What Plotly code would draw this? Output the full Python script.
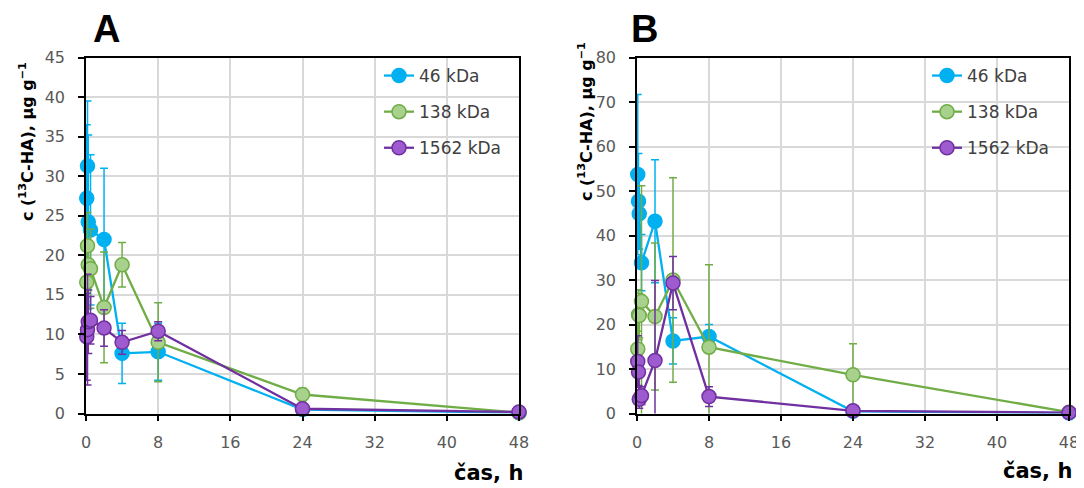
import plotly.graph_objects as go

# ---- data ----
hours = [0.083, 0.167, 0.25, 0.5, 2, 4, 8, 24, 48]
series_names = ["46 kDa", "138 kDa", "1562 kDa"]

# Panel A
a_46 = [27.2, 31.3, 24.2, 23.2, 22.0, 7.6, 7.8, 0.5, 0.1]
a_46_err = [9.3, 8.2, 11.0, 9.5, 9.0, 3.8, 3.6, 0.4, 0.1]
a_138 = [16.6, 21.2, 18.8, 18.3, 13.4, 18.8, 9.0, 2.4, 0.1]
a_138_err = [3.0, 4.2, 2.5, 5.0, 7.0, 2.8, 5.0, 0.8, 0.1]
a_1562 = [9.7, 10.6, 11.6, 11.8, 10.8, 9.0, 10.4, 0.6, 0.2]
a_1562_err = [5.5, 7.0, 4.0, 3.0, 2.3, 1.5, 1.2, 0.3, 0.1]

# Panel B
b_46 = [53.7, 47.7, 44.9, 33.9, 43.2, 16.3, 17.3, 0.5, 0.1]
b_46_err = [18.0, 10.7, 8.0, 6.3, 13.8, 5.2, 2.7, 0.3, 0.1]
b_138 = [14.5, 22.2, 22.0, 25.2, 21.8, 30.0, 14.9, 8.7, 0.3]
b_138_err = [4.0, 5.6, 5.0, 26.0, 16.5, 23.0, 18.5, 7.0, 0.2]
b_1562 = [11.7, 9.3, 3.2, 4.0, 11.9, 29.3, 3.8, 0.6, 0.2]
b_1562_err = [5.8, 3.0, 2.0, 2.0, 18.0, 6.0, 2.2, 0.3, 0.1]

x_ticks = [0, 8, 16, 24, 32, 40, 48]
ya_ticks = list(range(0, 46, 5))
yb_ticks = list(range(0, 81, 10))

panel_labels = ["A", "B"]
y_title = "c (<sup>13</sup>C-HA), µg g<sup>−1</sup>"
x_title = "čas, h"

# ---- styles ----
# the page body has an 8px margin, so the figure is drawn offset by 8px
OFF = 8
W, H = 1076, 480
line_cols = ["#00B0F0", "#70AD47", "#7030A0"]
fill_cols = ["#00B0F0", "#A9D18E", "#9E5BCF"]
WIDE = "DejaVu Sans"

def px(x):
    return (x - OFF) / W

def py(y):
    return 1 - (y - OFF) / H

fig = go.Figure()

panels = [
    ("x", "y", "legend", [a_46, a_138, a_1562], [a_46_err, a_138_err, a_1562_err]),
    ("x2", "y2", "legend2", [b_46, b_138, b_1562], [b_46_err, b_138_err, b_1562_err]),
]
for xa, ya, lg, vals, errs in panels:
    for i, name in enumerate(series_names):
        fig.add_trace(go.Scatter(
            x=hours, y=vals[i], name=name, mode="lines+markers",
            xaxis=xa, yaxis=ya, legend=lg, legendgroup=lg + str(i),
            line=dict(color=line_cols[i], width=2.3),
            marker=dict(size=14, color=fill_cols[i], line=dict(color=line_cols[i], width=1.5)),
            error_y=dict(type="data", array=errs[i], visible=True,
                         color=line_cols[i], thickness=1.5, width=4),
            cliponaxis=False,
        ))

axis_common = dict(
    showline=True, linecolor="black", linewidth=1.5, mirror=True,
    showgrid=True, gridcolor="#D9D9D9", gridwidth=1.5,
    ticks="outside", ticklen=6, tickcolor="black", tickwidth=1.5,
    tickfont=dict(family=WIDE, size=16, color="#595959"),
    zeroline=False, automargin=False,
)

ydom = [py(413.5), py(57.5)]
fig.update_layout(
    width=W, height=H, margin=dict(l=0, r=0, t=0, b=0, pad=0, autoexpand=False),
    paper_bgcolor="white", plot_bgcolor="white",
    xaxis=dict(domain=[px(86), px(519)], range=[0, 48], tickvals=x_ticks,
               ticklabelstandoff=8, anchor="y", **axis_common),
    yaxis=dict(domain=ydom, range=[0, 45], tickvals=ya_ticks,
               ticklabelstandoff=10, anchor="x", **axis_common),
    xaxis2=dict(domain=[px(637), px(1069)], range=[0, 48], tickvals=x_ticks,
                ticklabelstandoff=8, anchor="y2", **axis_common),
    yaxis2=dict(domain=ydom, range=[0, 80], tickvals=yb_ticks,
                ticklabelstandoff=10, anchor="x2", **axis_common),
    legend=dict(x=px(379), y=py(58), xanchor="left", yanchor="top",
                bgcolor="rgba(0,0,0,0)", tracegroupgap=11,
                font=dict(family=WIDE, size=17, color="#404040")),
    legend2=dict(x=px(927), y=py(58), xanchor="left", yanchor="top",
                 bgcolor="rgba(0,0,0,0)", tracegroupgap=11,
                 font=dict(family=WIDE, size=17, color="#404040")),
)

def note(text, x, y, font, angle=0):
    fig.add_annotation(text=text, x=px(x), y=py(y), xref="paper", yref="paper",
                       xanchor="center", yanchor="middle", showarrow=False,
                       textangle=angle, font=font)

# panel labels
for lab, (lx, ly) in zip(panel_labels, [(106, 29), (644, 29)]):
    note(f"<b>{lab}</b>", lx, ly, dict(family="Liberation Sans", size=38, color="black"))

# y-axis titles
for tx, ty in [(26, 142), (585, 122)]:
    note(f"<b>{y_title}</b>", tx, ty, dict(family=WIDE, size=16, color="black"), angle=-90)

# x-axis titles
for tx, ty in [(488, 473), (1037, 471)]:
    note(f"<b>{x_title}</b>", tx, ty, dict(family=WIDE, size=21, color="black"))

fig.write_html("out.html")
